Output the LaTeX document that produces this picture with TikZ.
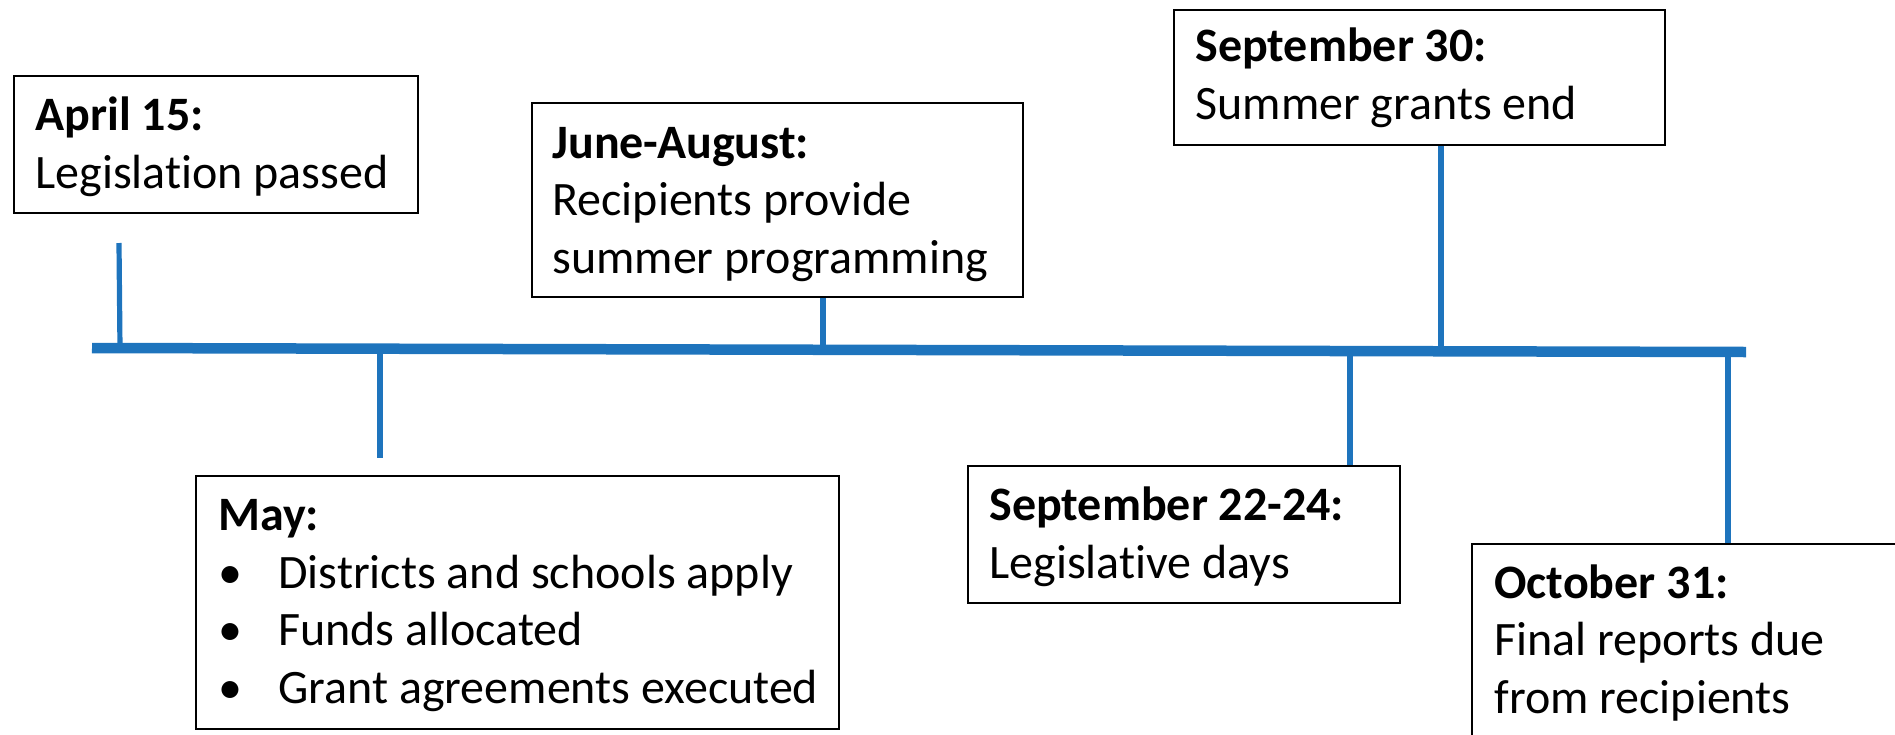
\documentclass[tikz,border=0pt]{standalone}
\usepackage{fontspec}
\setmainfont{Carlito}[Ligatures=NoCommon]
\usetikzlibrary{fit}
\definecolor{tlblue}{RGB}{30,116,189}
\begin{document}
\begin{tikzpicture}[x=0.5pt,y=-0.5pt,
  evbox/.style={draw=black, line width=1.25pt, rectangle, inner sep=0pt},
  evtext/.style={anchor=base west, inner sep=0pt, align=left, font=\fontsize{24}{28.75}\selectfont},
  mainline/.style={draw=tlblue, line width=5.25pt},
  tickline/.style={draw=tlblue, line width=2.6pt}]
\useasboundingbox (0,0) rectangle (1895,734);

% boxes
\node[evbox, fit={(14,76) (418,213)}] (aprbox) {};
\node[evbox, fit={(532,103) (1023,297)}] (junebox) {};
\node[evbox, fit={(1174,10) (1665,145)}] (s30box) {};
\node[evbox, fit={(196,476) (839,729)}] (maybox) {};
\node[evbox, fit={(968,466) (1400,603)}] (s22box) {};
\node[evbox, fit={(1472,544) (1910,760)}] (octbox) {};

% texts (anchored at the baseline of the last line)
\node[evtext] (aprtxt) at (35,188) {\textbf{April 15:}\\Legislation passed};
\node[evtext] (junetxt) at (552,273) {\textbf{June-August:}\\Recipients provide\\summer programming};
\node[evtext] (s30txt) at (1195,119) {\textbf{September 30:}\\Summer grants end};
\node[evtext] (maytxt) at (218,703) {\textbf{May:}\\\makebox[30pt][l]{•}Districts and schools apply\\\makebox[30pt][l]{•}Funds allocated\\\makebox[30pt][l]{•}Grant agreements executed};
\node[evtext] (s22txt) at (989,578) {\textbf{September 22-24:}\\Legislative days};
\node[evtext] (octtxt) at (1494,713) {\textbf{October 31:}\\Final reports due\\from recipients};

% main line and tick points
\coordinate (mlL) at (92,348);
\coordinate (mlR) at (1746,352);
\coordinate (tApr) at (120,348);
\coordinate (tMay) at (380,349);
\coordinate (tJune) at (823,350);
\coordinate (tS22) at (1350,351);
\coordinate (tS30) at (1441,351);
\coordinate (tOct) at (1728,352);
\coordinate (aprend) at (119,243);
\coordinate (mayend) at (380,458);

% ticks
\draw[tickline] (aprend) -- (tApr);
\draw[tickline] (tMay) -- (mayend);
\draw[tickline] (junebox.south -| tJune) -- (tJune);
\draw[tickline] (s30box.south -| tS30) -- (tS30);
\draw[tickline] (tS22) -- (s22box.north -| tS22);
\draw[tickline] (tOct) -- (octbox.north -| tOct);

\draw[mainline] (mlL) -- (mlR);
\end{tikzpicture}
\end{document}
